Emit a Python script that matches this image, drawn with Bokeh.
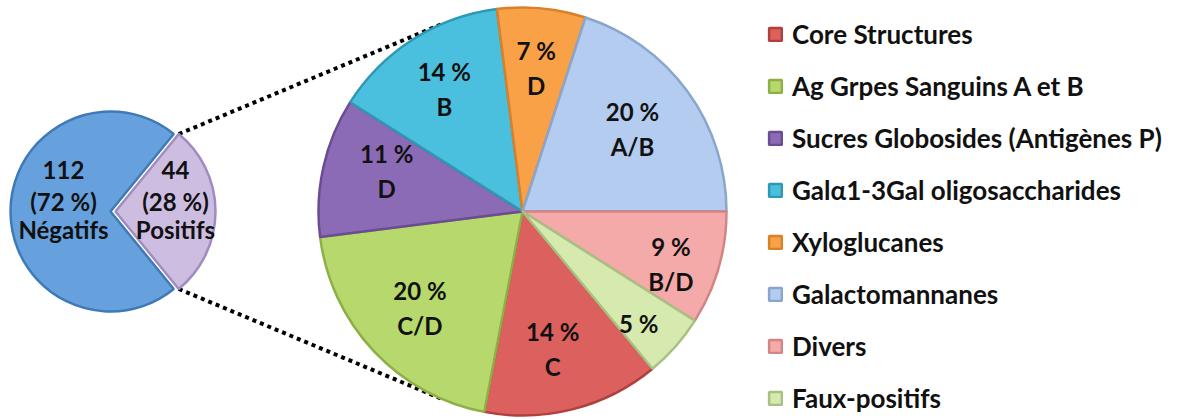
import math
from bokeh.plotting import figure
from bokeh.models import Range1d, Legend, LegendItem, ColumnDataSource
from bokeh.core.properties import value
from bokeh.embed import file_html
from bokeh.resources import INLINE

# ---------------- data ----------------
main_labels = ["Négatifs", "Positifs"]
main_counts = [112, 44]

sub_labels = ["Core Structures", "Ag Grpes Sanguins A et B",
              "Sucres Globosides (Antigènes P)", "Galα1-3Gal oligosaccharides",
              "Xyloglucanes", "Galactomannanes", "Divers", "Faux-positifs"]
sub_pct = [14, 20, 11, 14, 7, 20, 9, 5]
sub_letters = ["C", "C/D", "D", "B", "D", "A/B", "B/D", ""]

# ---------------- styles ----------------
main_fill = ["#66A1DE", "#CDBEE1"]
main_line = ["#3F7AB8", "#A08CC0"]
sub_fill = ["#DC605D", "#B6D86C", "#8B6BB5", "#4BC0DE",
            "#F9A147", "#B3CCEF", "#F5AAAA", "#D6E9AE"]
sub_line = ["#B0403D", "#8DAF45", "#6A4C92", "#2F98B5",
            "#D9802A", "#8AA6CF", "#D38584", "#A9C083"]
FONT = value("Lato")
TXT = "#111111"

W, H = 1178, 419
p = figure(width=W, height=H, x_range=Range1d(0, W), y_range=Range1d(0, H),
           output_backend="svg", toolbar_location=None,
           x_axis_location=None, y_axis_location=None,
           min_border=0, outline_line_color=None)
p.grid.visible = False
p.background_fill_color = "white"

# geometry (layout, pixel units; y measured upward)
scx, scy, sr = 110, H - 211, 100     # small pie
explode = 5
bcx, bcy, br = 522, H - 211, 204     # big pie

# ---------------- small pie ----------------
tot = sum(main_counts)
fr = [c / tot for c in main_counts]
half = math.pi * fr[1]
s_start = [half, -half]
s_end = [2 * math.pi - half, half]
s_mid = [math.pi, 0.0]
s_exp = [0, explode]
s_x = [scx + e * math.cos(m) for e, m in zip(s_exp, s_mid)]
s_y = [scy + e * math.sin(m) for e, m in zip(s_exp, s_mid)]

# connector lines: tangents from Positifs slice corners to the big pie
px, py = s_x[1], s_y[1]
for sgn in (1, -1):
    ax = px + sr * math.cos(sgn * half)
    ay = py + sr * math.sin(sgn * half)
    dx, dy = ax - bcx, ay - bcy
    d = math.hypot(dx, dy)
    base = math.atan2(dy, dx)
    t = base - sgn * math.acos(br / d)
    tx, ty = bcx + br * math.cos(t), bcy + br * math.sin(t)
    p.line([ax, tx], [ay, ty], line_color="black", line_width=4,
           line_dash="4 4")

small_src = ColumnDataSource(dict(x=s_x, y=s_y, start=s_start, end=s_end,
                                  fill=main_fill, line=main_line))
p.wedge(x="x", y="y", radius=sr, start_angle="start", end_angle="end",
        fill_color="fill", line_color="line", line_width=2.5,
        source=small_src)

s_lab_r = [0.47, 0.60]
s_line_off = [-42, -10, 18]
for i in range(2):
    lx = s_x[i] + s_lab_r[i] * sr * math.cos(s_mid[i])
    ly = s_y[i] + s_lab_r[i] * sr * math.sin(s_mid[i])
    lines = [str(main_counts[i]), "(%d %%)" % round(fr[i] * 100), main_labels[i]]
    for k, txt in enumerate(lines):
        p.text(x=[lx], y=[ly], text=[txt], y_offset=s_line_off[k],
               text_font=FONT, text_font_style="bold", text_font_size="24px",
               text_align="center", text_baseline="middle", text_color=TXT)

# ---------------- big pie ----------------
a0 = -2 * math.pi * sum(sub_pct[6:]) / 100.0
starts, ends, mids = [], [], []
acc = 0.0
for v in sub_pct:
    st = a0 - 2 * math.pi * acc / 100.0
    en = st - 2 * math.pi * v / 100.0
    starts.append(st)
    ends.append(en)
    mids.append((st + en) / 2)
    acc += v

big_src = ColumnDataSource(dict(x=[bcx] * len(sub_pct), y=[bcy] * len(sub_pct),
                                start=starts, end=ends, fill=sub_fill,
                                line=sub_line, label=sub_labels))
big_r = p.wedge(x="x", y="y", radius=br, start_angle="start", end_angle="end",
                direction="clock", fill_color="fill", line_color="line",
                line_width=2.5, source=big_src)

# label placement (radius fraction, clockwise nudge in degrees)
lab_r = [0.69, 0.69, 0.695, 0.715, 0.71, 0.675, 0.77, 0.79]
lab_da = [2, 0, 4, 0, 0, -1, 3, 2.5]
for i, v in enumerate(sub_pct):
    a = mids[i] - math.radians(lab_da[i])
    lx = bcx + lab_r[i] * br * math.cos(a)
    ly = bcy + lab_r[i] * br * math.sin(a)
    if sub_letters[i]:
        p.text(x=[lx], y=[ly], text=["%d %%" % v], y_offset=-17,
               text_font=FONT, text_font_style="bold", text_font_size="24px",
               text_align="center", text_baseline="middle", text_color=TXT)
        p.text(x=[lx], y=[ly], text=[sub_letters[i]], y_offset=18,
               text_font=FONT, text_font_style="bold", text_font_size="24px",
               text_align="center", text_baseline="middle", text_color=TXT)
    else:
        p.text(x=[lx], y=[ly], text=["%d %%" % v],
               text_font=FONT, text_font_style="bold", text_font_size="24px",
               text_align="center", text_baseline="middle", text_color=TXT)

# ---------------- legend ----------------
legend = Legend(items=[LegendItem(label=lab, renderers=[big_r], index=i)
                       for i, lab in enumerate(sub_labels)],
                location=(767, 5), orientation="vertical",
                glyph_width=16, glyph_height=16, label_height=32,
                spacing=20, padding=0, margin=0, label_standoff=9,
                label_text_font="Lato", label_text_font_style="bold",
                label_text_font_size="26px", label_text_color=TXT,
                border_line_color=None, background_fill_alpha=0)
p.add_layout(legend, "center")

open("out.html", "w").write(file_html(p, INLINE))
